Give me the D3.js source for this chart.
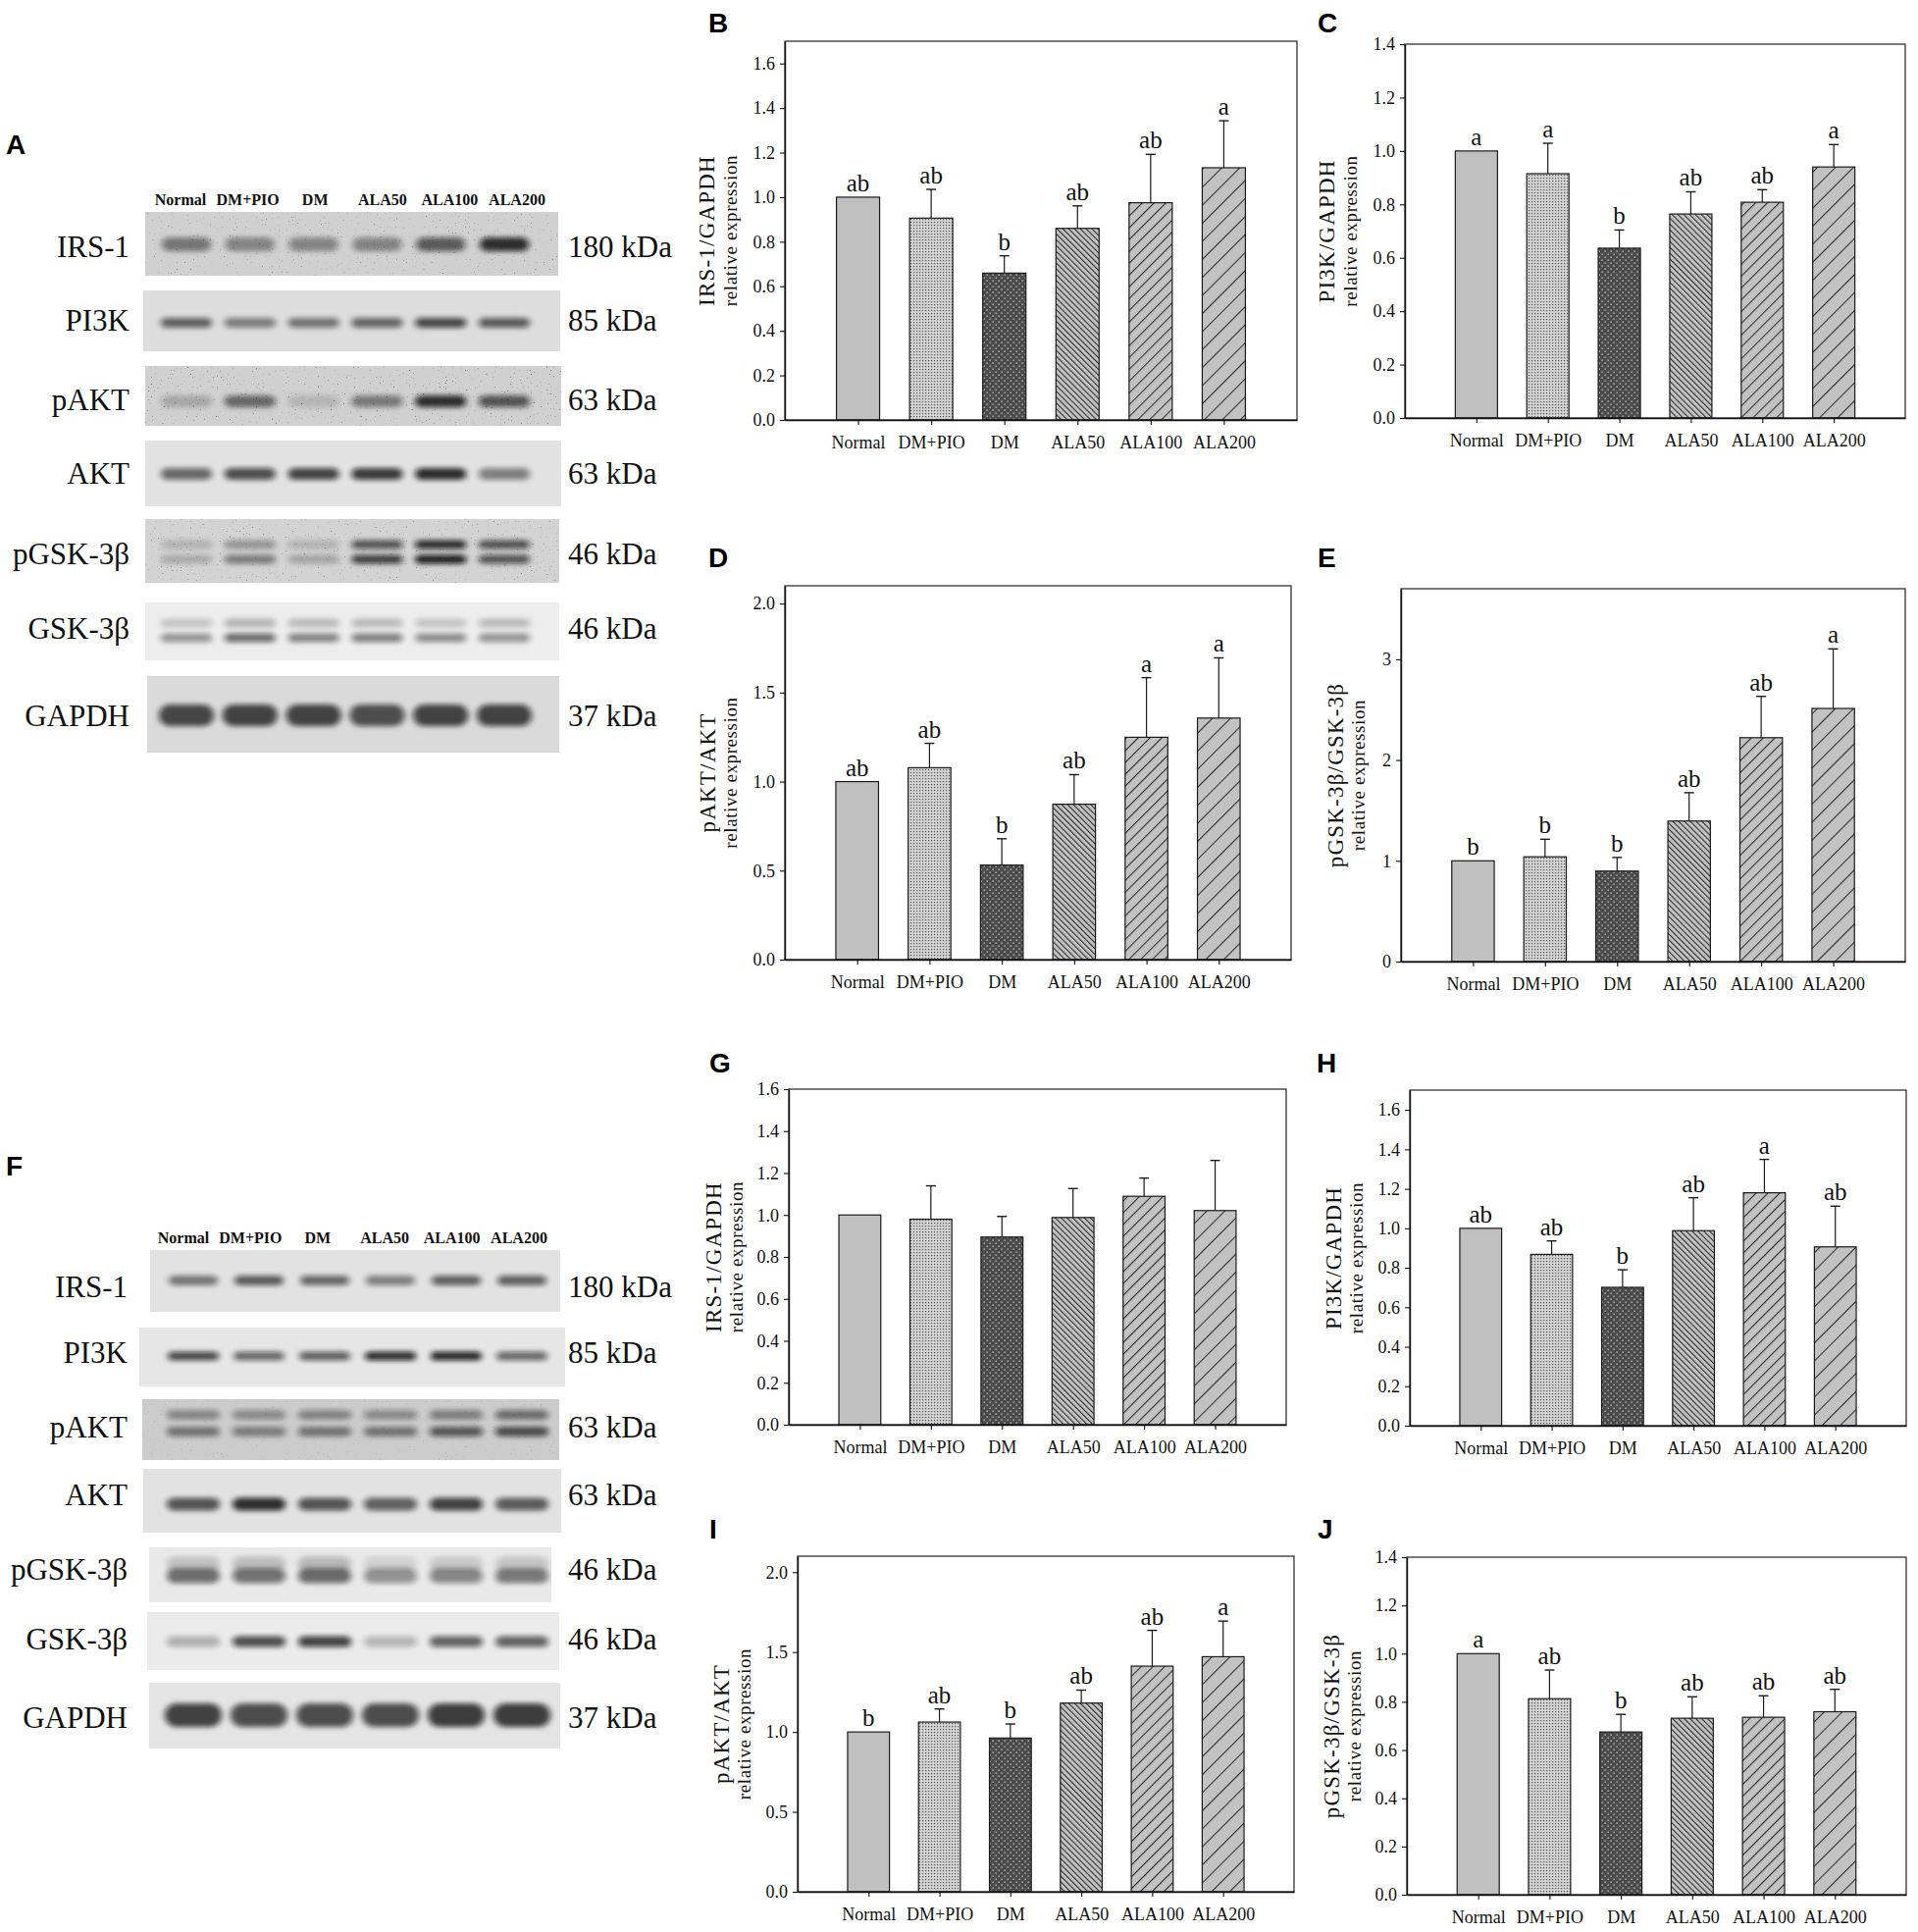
<!DOCTYPE html>
<html>
<head>
<meta charset="utf-8">
<script src="https://cdn.jsdelivr.net/npm/d3@7/dist/d3.min.js"></script>
<style>
  body { margin: 0; background: #fff; }
</style>
</head>
<body>
<div id="fig"></div>
<script>
// groups shared by every blot and bar chart
const groups = ["Normal", "DM+PIO", "DM", "ALA50", "ALA100", "ALA200"];

// bar charts: mean, upper error, significance letters
const bMean = [1.00, 0.906, 0.659, 0.860, 0.975, 1.132];
const bErr  = [0, 0.129, 0.078, 0.101, 0.217, 0.211];
const bSig  = ["ab", "ab", "b", "ab", "ab", "a"];

const cMean = [1.00, 0.915, 0.636, 0.764, 0.808, 0.940];
const cErr  = [0, 0.114, 0.068, 0.083, 0.047, 0.084];
const cSig  = ["a", "a", "b", "ab", "ab", "a"];

const dMean = [1.00, 1.078, 0.531, 0.873, 1.249, 1.357];
const dErr  = [0, 0.137, 0.148, 0.166, 0.335, 0.338];
const dSig  = ["ab", "ab", "b", "ab", "a", "a"];

const eMean = [1.00, 1.040, 0.898, 1.395, 2.222, 2.512];
const eErr  = [0, 0.174, 0.135, 0.281, 0.410, 0.591];
const eSig  = ["b", "b", "b", "ab", "ab", "a"];

const gMean = [1.00, 0.980, 0.895, 0.988, 1.089, 1.021];
const gErr  = [0, 0.159, 0.098, 0.138, 0.087, 0.239];
const gSig  = ["", "", "", "", "", ""];

const hMean = [1.00, 0.868, 0.701, 0.988, 1.180, 0.906];
const hErr  = [0, 0.068, 0.089, 0.167, 0.169, 0.206];
const hSig  = ["ab", "ab", "b", "ab", "a", "ab"];

const iMean = [1.00, 1.062, 0.962, 1.181, 1.412, 1.471];
const iErr  = [0, 0.082, 0.088, 0.081, 0.224, 0.223];
const iSig  = ["b", "ab", "b", "ab", "ab", "a"];

const jMean = [1.00, 0.813, 0.675, 0.732, 0.736, 0.759];
const jErr  = [0, 0.119, 0.073, 0.089, 0.089, 0.093];
const jSig  = ["a", "ab", "b", "ab", "ab", "ab"];

const ticks16 = [0, 0.2, 0.4, 0.6, 0.8, 1.0, 1.2, 1.4, 1.6];
const ticks14 = [0, 0.2, 0.4, 0.6, 0.8, 1.0, 1.2, 1.4];
const ticks20 = [0, 0.5, 1.0, 1.5, 2.0];
const ticks3  = [0, 1, 2, 3];

// western blots: protein names, sizes, band darkness per lane (0..1)
const proteins = ["IRS-1", "PI3K", "pAKT", "AKT", "pGSK-3β", "GSK-3β", "GAPDH"];
const kda = ["180 kDa", "85 kDa", "63 kDa", "63 kDa", "46 kDa", "46 kDa", "37 kDa"];

const blotA = [
  [0.50, 0.42, 0.42, 0.42, 0.65, 0.90],
  [0.65, 0.50, 0.55, 0.62, 0.78, 0.68],
  [0.22, 0.58, 0.15, 0.48, 0.90, 0.68],
  [0.62, 0.75, 0.80, 0.85, 0.92, 0.50],
  [0.22, 0.48, 0.25, 0.80, 0.98, 0.70],
  [0.42, 0.62, 0.50, 0.52, 0.45, 0.42],
  [0.78, 0.80, 0.80, 0.74, 0.80, 0.80]
];
// upper band of doublets (0 = none)
const blotA2 = [
  [0, 0, 0, 0, 0, 0],
  [0, 0, 0, 0, 0, 0],
  [0, 0, 0, 0, 0, 0],
  [0, 0, 0, 0, 0, 0],
  [0.18, 0.35, 0.18, 0.70, 0.92, 0.72],
  [0.20, 0.28, 0.25, 0.25, 0.20, 0.25],
  [0, 0, 0, 0, 0, 0]
];

const blotF = [
  [0.55, 0.68, 0.62, 0.50, 0.66, 0.66],
  [0.78, 0.62, 0.66, 0.92, 0.95, 0.62],
  [0.50, 0.45, 0.50, 0.50, 0.66, 0.72],
  [0.72, 0.92, 0.72, 0.66, 0.82, 0.68],
  [0.60, 0.58, 0.62, 0.42, 0.48, 0.55],
  [0.28, 0.76, 0.82, 0.25, 0.66, 0.66],
  [0.82, 0.76, 0.76, 0.76, 0.84, 0.84]
];
const blotF2 = [
  [0, 0, 0, 0, 0, 0],
  [0, 0, 0, 0, 0, 0],
  [0.40, 0.38, 0.42, 0.38, 0.45, 0.55],
  [0, 0, 0, 0, 0, 0],
  [0.20, 0.22, 0.25, 0.12, 0.16, 0.18],
  [0, 0, 0, 0, 0, 0],
  [0, 0, 0, 0, 0, 0]
];

const W = 1955, H = 1969;
const serif = "'Liberation Serif', 'Times New Roman', serif";
const sans = "'Liberation Sans', Arial, sans-serif";

const svg = d3.select("#fig").append("svg")
  .attr("width", W).attr("height", H)
  .attr("viewBox", `0 0 ${W} ${H}`);

svg.append("rect").attr("width", W).attr("height", H).attr("fill", "#fff");

// ---------- patterns / filters ----------
const defs = svg.append("defs");

const blur = defs.append("filter").attr("id", "blur")
  .attr("x", "-50%").attr("y", "-100%").attr("width", "200%").attr("height", "300%");
blur.append("feGaussianBlur").attr("stdDeviation", "3 2.4");

// sparse dark specks for the noisy membranes
const speck = defs.append("filter").attr("id", "speck")
  .attr("x", 0).attr("y", 0).attr("width", "100%").attr("height", "100%");
speck.append("feTurbulence").attr("type", "fractalNoise")
  .attr("baseFrequency", 0.7).attr("numOctaves", 1).attr("seed", 3);
speck.append("feColorMatrix").attr("type", "matrix")
  .attr("values", "0 0 0 0 0  0 0 0 0 0  0 0 0 0 0  10 0 0 0 -6.9");

// light dots
let p = defs.append("pattern").attr("id", "dotLight")
  .attr("patternUnits", "userSpaceOnUse").attr("width", 3).attr("height", 3);
p.append("rect").attr("width", 3).attr("height", 3).attr("fill", "#d2d2d2");
p.append("rect").attr("x", 1).attr("y", 1).attr("width", 1.2).attr("height", 1.2).attr("fill", "#555");

// dark with light dots
p = defs.append("pattern").attr("id", "dotDark")
  .attr("patternUnits", "userSpaceOnUse").attr("width", 6).attr("height", 6);
p.append("rect").attr("width", 6).attr("height", 6).attr("fill", "#4b4b4b");
p.append("rect").attr("x", 0.5).attr("y", 0.5).attr("width", 1.3).attr("height", 1.3).attr("fill", "#cfcfcf");
p.append("rect").attr("x", 3.5).attr("y", 3.5).attr("width", 1.3).attr("height", 1.3).attr("fill", "#cfcfcf");

function hatch(id, step, angle) {
  const h = defs.append("pattern").attr("id", id)
    .attr("patternUnits", "userSpaceOnUse").attr("width", step).attr("height", step)
    .attr("patternTransform", `rotate(${angle})`);
  h.append("rect").attr("width", step).attr("height", step).attr("fill", "#c2c2c2");
  h.append("line").attr("x1", 0.5).attr("y1", 0).attr("x2", 0.5).attr("y2", step)
    .attr("stroke", "#2a2a2a").attr("stroke-width", 1.1);
}
hatch("hatch1", 4.2, -45);
hatch("hatch2", 8.5, 45);
hatch("hatch3", 13, 45);

const fills = ["#c0c0c0", "url(#dotLight)", "url(#dotDark)", "url(#hatch1)", "url(#hatch2)", "url(#hatch3)"];

// ---------- panel letters ----------
const letters = [
  ["A", 6, 157], ["B", 722, 33], ["C", 1343, 33], ["D", 722, 578], ["E", 1343, 578],
  ["F", 6, 1198], ["G", 723, 1093], ["H", 1342, 1093], ["I", 723, 1568], ["J", 1343, 1568]
];
svg.selectAll(".plabel").data(letters).enter().append("text")
  .attr("class", "plabel")
  .attr("x", d => d[1])
  .attr("y", d => d[2])
  .attr("font-family", sans).attr("font-weight", "bold").attr("font-size", 28)
  .attr("fill", "#000")
  .text(d => d[0]);

// ---------- western blots ----------
function drawBlot(cfg) {
  const g = svg.append("g");
  const lane = d3.scalePoint().domain(groups).range(cfg.laneRange);
  const laneLab = d3.scalePoint().domain(groups).range(cfg.labRange);

  g.selectAll(".lane").data(groups).enter().append("text")
    .attr("x", d => laneLab(d)).attr("y", cfg.labY)
    .attr("text-anchor", "middle")
    .attr("font-family", serif).attr("font-weight", "bold").attr("font-size", 16)
    .attr("fill", "#111")
    .text(d => d);

  cfg.rows.forEach((r, i) => {
    const strip = g.append("g");
    strip.append("rect")
      .attr("x", r.x0).attr("y", r.top)
      .attr("width", r.x1 - r.x0).attr("height", r.bottom - r.top)
      .attr("fill", r.bg);
    const clip = "clip" + cfg.id + i;
    defs.append("clipPath").attr("id", clip).append("rect")
      .attr("x", r.x0).attr("y", r.top)
      .attr("width", r.x1 - r.x0).attr("height", r.bottom - r.top);
    const bands = strip.append("g").attr("clip-path", `url(#${clip})`);

    const upper = cfg.data2[i];
    bands.selectAll(".up").data(groups.filter((d, k) => upper[k] > 0)).enter().append("rect")
      .attr("x", d => lane(d) - r.bw / 2).attr("y", r.by2 - r.bh / 2)
      .attr("width", r.bw).attr("height", r.bh).attr("rx", r.bh / 2)
      .attr("fill", "#0a0a0a")
      .attr("opacity", d => upper[groups.indexOf(d)] * 0.9)
      .attr("filter", "url(#blur)");

    const main = cfg.data[i];
    bands.selectAll(".band").data(groups).enter().append("rect")
      .attr("x", d => lane(d) - r.bw / 2).attr("y", r.by - r.bh / 2)
      .attr("width", r.bw).attr("height", r.bh).attr("rx", r.bh / 2)
      .attr("fill", "#0a0a0a")
      .attr("opacity", (d, k) => main[k] * 0.92)
      .attr("filter", "url(#blur)");

    if (r.noise) {
      strip.append("rect")
        .attr("x", r.x0).attr("y", r.top)
        .attr("width", r.x1 - r.x0).attr("height", r.bottom - r.top)
        .attr("filter", "url(#speck)").attr("opacity", r.noise);
    }

    g.append("text")
      .attr("x", cfg.nameX).attr("y", r.ly).attr("dy", "0.35em")
      .attr("text-anchor", "end")
      .attr("font-family", serif).attr("font-size", 31).attr("fill", "#111")
      .text(proteins[i]);
    g.append("text")
      .attr("x", cfg.kdaX).attr("y", r.ly).attr("dy", "0.35em")
      .attr("font-family", serif).attr("font-size", 31).attr("fill", "#111")
      .text(kda[i]);
  });
}

drawBlot({
  id: "A", data: blotA, data2: blotA2,
  laneRange: [190, 514], labRange: [184, 527], labY: 209,
  nameX: 132, kdaX: 579,
  rows: [
    { x0: 148, x1: 569, top: 216, bottom: 281, by: 249, by2: 0, bh: 14, bw: 50, bg: "#d0d0d0", ly: 251, noise: 0.35 },
    { x0: 146, x1: 571, top: 296, bottom: 358, by: 329, by2: 0, bh: 10, bw: 52, bg: "#dddddd", ly: 326, noise: 0 },
    { x0: 148, x1: 572, top: 373, bottom: 434, by: 409, by2: 0, bh: 12, bw: 52, bg: "#d0d0d0", ly: 407, noise: 0.45 },
    { x0: 148, x1: 572, top: 449, bottom: 516, by: 483, by2: 0, bh: 12, bw: 52, bg: "#e2e2e2", ly: 482, noise: 0 },
    { x0: 148, x1: 570, top: 529, bottom: 594, by: 570, by2: 555, bh: 9, bw: 52, bg: "#d3d3d3", ly: 564, noise: 0.35 },
    { x0: 148, x1: 570, top: 614, bottom: 673, by: 650, by2: 635, bh: 9, bw: 52, bg: "#ededed", ly: 640, noise: 0 },
    { x0: 150, x1: 570, top: 689, bottom: 767, by: 729, by2: 0, bh: 22, bw: 56, bg: "#dadada", ly: 729, noise: 0 }
  ]
});

drawBlot({
  id: "F", data: blotF, data2: blotF2,
  laneRange: [197, 532], labRange: [187, 529], labY: 1267,
  nameX: 130, kdaX: 579,
  rows: [
    { x0: 153, x1: 571, top: 1274, bottom: 1337, by: 1305, by2: 0, bh: 10, bw: 50, bg: "#e2e2e2", ly: 1311, noise: 0 },
    { x0: 142, x1: 576, top: 1353, bottom: 1413, by: 1382, by2: 0, bh: 9, bw: 52, bg: "#e6e6e6", ly: 1378, noise: 0 },
    { x0: 145, x1: 570, top: 1426, bottom: 1488, by: 1459, by2: 1442, bh: 10, bw: 54, bg: "#cccccc", ly: 1454, noise: 0.15 },
    { x0: 146, x1: 572, top: 1497, bottom: 1562, by: 1533, by2: 0, bh: 13, bw: 54, bg: "#e2e2e2", ly: 1523, noise: 0 },
    { x0: 152, x1: 562, top: 1577, bottom: 1633, by: 1606, by2: 1594, bh: 15, bw: 54, bg: "#e9e9e9", ly: 1599, noise: 0 },
    { x0: 150, x1: 570, top: 1643, bottom: 1702, by: 1673, by2: 0, bh: 11, bw: 54, bg: "#ebebeb", ly: 1670, noise: 0 },
    { x0: 152, x1: 571, top: 1715, bottom: 1782, by: 1748, by2: 0, bh: 24, bw: 58, bg: "#e4e4e4", ly: 1750, noise: 0 }
  ]
});

// ---------- bar charts ----------
const panels = [
  { name: "IRS-1/GAPDH", mean: bMean, err: bErr, sig: bSig, ticks: ticks16, fmt: ".1f", top: 1.7, x0: 800, x1: 1322, y0: 42, y1: 428, l1: -80, l2: -56 },
  { name: "PI3K/GAPDH", mean: cMean, err: cErr, sig: cSig, ticks: ticks14, fmt: ".1f", top: 1.4, x0: 1432, x1: 1942, y0: 45, y1: 426, l1: -80, l2: -56 },
  { name: "pAKT/AKT", mean: dMean, err: dErr, sig: dSig, ticks: ticks20, fmt: ".1f", top: 2.1, x0: 800, x1: 1316, y0: 597, y1: 978, l1: -79, l2: -56 },
  { name: "pGSK-3β/GSK-3β", mean: eMean, err: eErr, sig: eSig, ticks: ticks3, fmt: "d", top: 3.7, x0: 1428, x1: 1942, y0: 600, y1: 980, l1: -67, l2: -44 },
  { name: "IRS-1/GAPDH", mean: gMean, err: gErr, sig: gSig, ticks: ticks16, fmt: ".1f", top: 1.6, x0: 804, x1: 1311, y0: 1110, y1: 1452, l1: -77, l2: -54 },
  { name: "PI3K/GAPDH", mean: hMean, err: hErr, sig: hSig, ticks: ticks16, fmt: ".1f", top: 1.7, x0: 1437, x1: 1943, y0: 1111, y1: 1453, l1: -78, l2: -55 },
  { name: "pAKT/AKT", mean: iMean, err: iErr, sig: iSig, ticks: ticks20, fmt: ".1f", top: 2.1, x0: 813, x1: 1319, y0: 1586, y1: 1928, l1: -78, l2: -55 },
  { name: "pGSK-3β/GSK-3β", mean: jMean, err: jErr, sig: jSig, ticks: ticks14, fmt: ".1f", top: 1.4, x0: 1434, x1: 1943, y0: 1587, y1: 1931, l1: -77, l2: -54 }
];

panels.forEach(pn => {
  const g = svg.append("g");
  const x = d3.scalePoint().domain(groups).range([pn.x0, pn.x1]).padding(1);
  const y = d3.scaleLinear().domain([0, pn.top]).range([pn.y1, pn.y0]);
  const bw = x.step() * 0.59;
  const data = groups.map((k, i) => ({ k, i, m: pn.mean[i], e: pn.err[i], s: pn.sig[i] }));

  // bars
  g.selectAll(".bar").data(data).enter().append("rect")
    .attr("x", d => x(d.k) - bw / 2).attr("y", d => y(d.m))
    .attr("width", bw).attr("height", d => y(0) - y(d.m))
    .attr("fill", d => fills[d.i])
    .attr("stroke", "#1a1a1a").attr("stroke-width", 1.2);

  // error bars
  const eb = data.filter(d => d.e > 0);
  g.selectAll(".ev").data(eb).enter().append("line")
    .attr("x1", d => x(d.k)).attr("x2", d => x(d.k))
    .attr("y1", d => y(d.m)).attr("y2", d => y(d.m + d.e))
    .attr("stroke", "#1a1a1a").attr("stroke-width", 1.2);
  g.selectAll(".ec").data(eb).enter().append("line")
    .attr("x1", d => x(d.k) - 5).attr("x2", d => x(d.k) + 5)
    .attr("y1", d => y(d.m + d.e)).attr("y2", d => y(d.m + d.e))
    .attr("stroke", "#1a1a1a").attr("stroke-width", 1.4);

  // significance letters
  g.selectAll(".sig").data(data).enter().append("text")
    .attr("x", d => x(d.k)).attr("y", d => y(d.m + d.e) - 6)
    .attr("text-anchor", "middle")
    .attr("font-family", serif).attr("font-size", 25).attr("fill", "#111")
    .text(d => d.s);

  // frame
  g.append("rect")
    .attr("x", pn.x0).attr("y", pn.y0)
    .attr("width", pn.x1 - pn.x0).attr("height", pn.y1 - pn.y0)
    .attr("fill", "none").attr("stroke", "#222").attr("stroke-width", 1.2);

  // axes
  const ya = g.append("g").attr("transform", `translate(${pn.x0},0)`)
    .call(d3.axisLeft(y).tickValues(pn.ticks).tickSize(5).tickSizeOuter(0).tickPadding(5)
      .tickFormat(d3.format(pn.fmt)));
  const xa = g.append("g").attr("transform", `translate(0,${pn.y1})`)
    .call(d3.axisBottom(x).tickSize(5).tickSizeOuter(0).tickPadding(11));
  [ya, xa].forEach(a => {
    a.select(".domain").attr("stroke", "#111").attr("stroke-width", 1.4);
    a.selectAll(".tick line").attr("stroke", "#111").attr("stroke-width", 1.1);
    a.selectAll("text").attr("font-family", serif).attr("font-size", 18).attr("fill", "#111");
  });

  // y label, two lines
  const cy = (pn.y0 + pn.y1) / 2;
  g.append("text")
    .attr("transform", `translate(${pn.x0 + pn.l1},${cy}) rotate(-90)`)
    .attr("dy", "0.35em").attr("text-anchor", "middle")
    .attr("font-family", serif).attr("font-size", 23).attr("fill", "#111")
    .attr("letter-spacing", 1.2)
    .text(pn.name);
  g.append("text")
    .attr("transform", `translate(${pn.x0 + pn.l2},${cy}) rotate(-90)`)
    .attr("dy", "0.35em").attr("text-anchor", "middle")
    .attr("font-family", serif).attr("font-size", 19).attr("fill", "#111")
    .attr("letter-spacing", 0.6)
    .text("relative expression");
});
</script>
</body>
</html>
